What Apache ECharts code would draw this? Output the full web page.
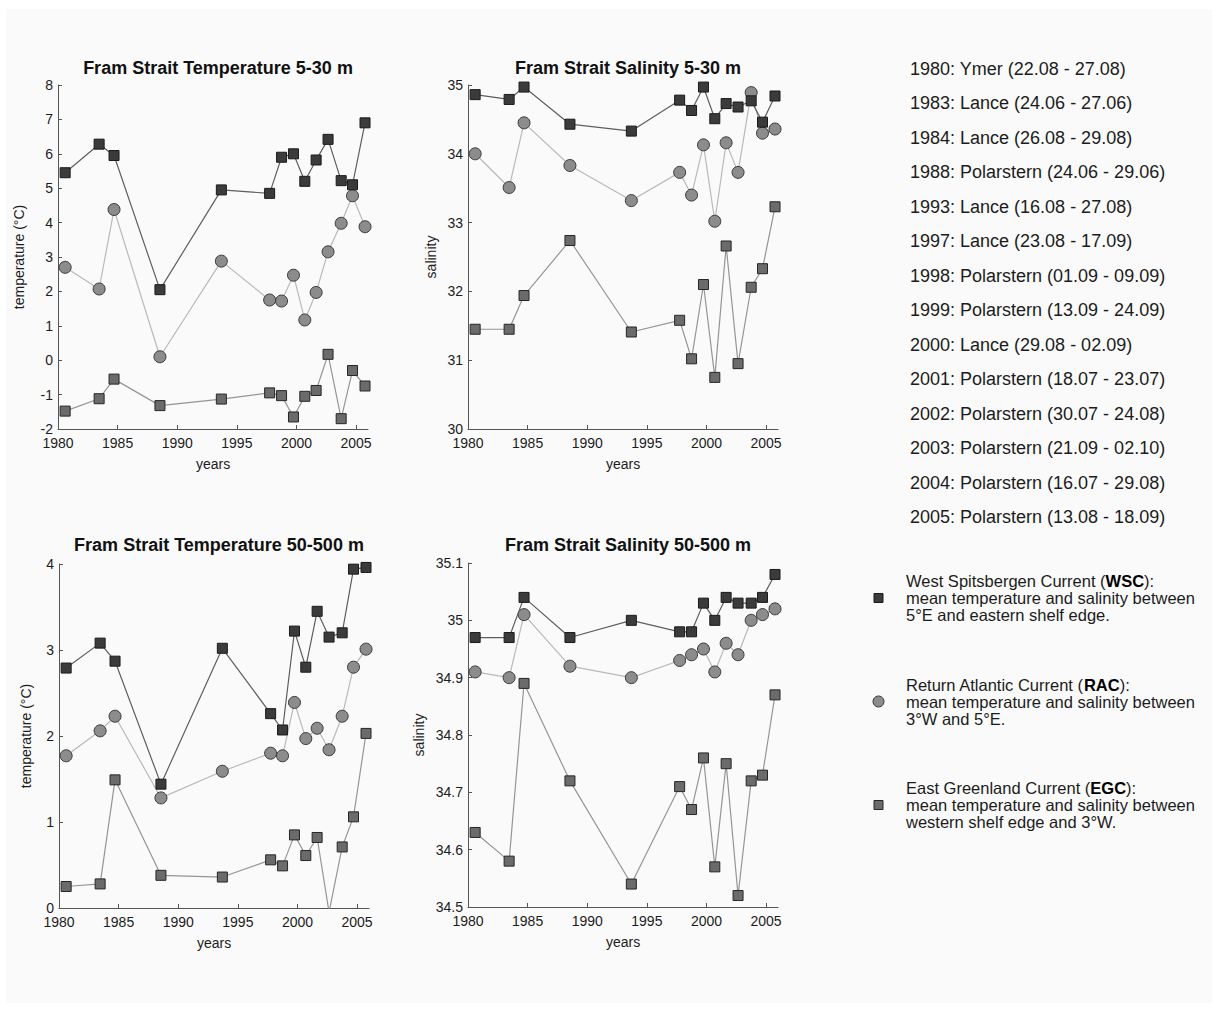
<!DOCTYPE html>
<html>
<head>
<meta charset="utf-8">
<script src="https://cdn.jsdelivr.net/npm/echarts@6/dist/echarts.min.js"></script>
<style>
  html, body { margin: 0; padding: 0; background: #ffffff; }
  #chart { width: 1218px; height: 1009px; }
</style>
</head>
<body>
<div id="chart"></div>
<script>
// Sampling times of the Fram Strait sections (decimal years)
const cruiseTimes = [1980.6, 1983.45, 1984.7, 1988.55, 1993.7, 1997.75, 1998.75, 1999.75, 2000.7, 2001.65, 2002.65, 2003.75, 2004.7, 2005.75];

// Temperature 5-30 m (°C)
const tempSurfWSC = [5.45, 6.28, 5.95, 2.05, 4.95, 4.85, 5.9, 6.0, 5.2, 5.82, 6.42, 5.22, 5.1, 6.9];
const tempSurfRAC = [2.7, 2.07, 4.38, 0.1, 2.88, 1.75, 1.72, 2.47, 1.17, 1.97, 3.15, 3.98, 4.78, 3.88];
const tempSurfEGC = [-1.48, -1.12, -0.55, -1.32, -1.13, -0.95, -1.03, -1.65, -1.05, -0.88, 0.17, -1.7, -0.3, -0.75];

// Salinity 5-30 m
const salSurfWSC = [34.86, 34.79, 34.97, 34.43, 34.33, 34.78, 34.63, 34.97, 34.51, 34.73, 34.68, 34.77, 34.46, 34.84];
const salSurfRAC = [34.0, 33.51, 34.45, 33.83, 33.32, 33.73, 33.4, 34.13, 33.02, 34.16, 33.73, 34.89, 34.3, 34.36];
const salSurfEGC = [31.45, 31.45, 31.94, 32.74, 31.41, 31.58, 31.02, 32.1, 30.75, 32.66, 30.95, 32.06, 32.33, 33.23];

// Temperature 50-500 m (°C)
const tempDeepWSC = [2.79, 3.08, 2.87, 1.44, 3.02, 2.26, 2.07, 3.22, 2.8, 3.45, 3.15, 3.2, 3.94, 3.96];
const tempDeepRAC = [1.77, 2.06, 2.23, 1.28, 1.59, 1.8, 1.77, 2.39, 1.97, 2.09, 1.84, 2.23, 2.8, 3.01];
const tempDeepEGC = [0.25, 0.28, 1.49, 0.38, 0.36, 0.56, 0.49, 0.85, 0.61, 0.82, -0.05, 0.71, 1.06, 2.03];

// Salinity 50-500 m
const salDeepWSC = [34.97, 34.97, 35.04, 34.97, 35.0, 34.98, 34.98, 35.03, 35.0, 35.04, 35.03, 35.03, 35.04, 35.08];
const salDeepRAC = [34.91, 34.9, 35.01, 34.92, 34.9, 34.93, 34.94, 34.95, 34.91, 34.96, 34.94, 35.0, 35.01, 35.02];
const salDeepEGC = [34.63, 34.58, 34.89, 34.72, 34.54, 34.71, 34.67, 34.76, 34.57, 34.75, 34.52, 34.72, 34.73, 34.87];

// Tick labels
const yearTicks = [1980, 1985, 1990, 1995, 2000, 2005];
const salDeepTicks = [34.5, 34.6, 34.7, 34.8, 34.9, 35.0, 35.1];

// Panel titles and axis names
const panelTitles = [
  'Fram Strait Temperature 5-30 m',
  'Fram Strait Salinity 5-30 m',
  'Fram Strait Temperature 50-500 m',
  'Fram Strait Salinity 50-500 m'
];
const yNames = ['temperature (°C)', 'salinity', 'temperature (°C)', 'salinity'];

// Expedition list
const cruiseList = [
  '1980: Ymer (22.08 - 27.08)',
  '1983: Lance (24.06 - 27.06)',
  '1984: Lance (26.08 - 29.08)',
  '1988: Polarstern (24.06 - 29.06)',
  '1993: Lance (16.08 - 27.08)',
  '1997: Lance (23.08 - 17.09)',
  '1998: Polarstern (01.09 - 09.09)',
  '1999: Polarstern (13.09 - 24.09)',
  '2000: Lance (29.08 - 02.09)',
  '2001: Polarstern (18.07 - 23.07)',
  '2002: Polarstern (30.07 - 24.08)',
  '2003: Polarstern (21.09 - 02.10)',
  '2004: Polarstern (16.07 - 29.08)',
  '2005: Polarstern (13.08 - 18.09)'
];

// Current descriptions: name, abbreviation, description lines
const currentNames = ['West Spitsbergen Current', 'Return Atlantic Current', 'East Greenland Current'];
const currentAbbr = ['WSC', 'RAC', 'EGC'];
const currentDesc = [
  ['mean temperature and salinity between', '5°E and eastern shelf edge.'],
  ['mean temperature and salinity between', '3°W and 5°E.'],
  ['mean temperature and salinity between', 'western shelf edge and 3°W.']
];

const FONT = '"Liberation Sans", Arial, Helvetica, sans-serif';
const TEXT = '#1c1c1c';
const AXIS = '#555555';

const styles = {
  WSC: { symbol: 'rect', size: 10, fill: '#3b3b3b', border: '#1a1a1a', line: '#5e5e5e' },
  RAC: { symbol: 'circle', size: 12, fill: '#8c8c8c', border: '#3a3a3a', line: '#b9b9b9' },
  EGC: { symbol: 'rect', size: 10, fill: '#6b6b6b', border: '#262626', line: '#959595' }
};

// Plot areas
const grids = [
  { left: 58, top: 85, width: 310, height: 344 },
  { left: 468, top: 85, width: 310, height: 344 },
  { left: 59, top: 564, width: 310, height: 344 },
  { left: 468, top: 563, width: 310, height: 344 }
];

const yRanges = [
  { min: -2, max: 8, interval: 1, gap: 32 },
  { min: 30, max: 35, interval: 1, gap: 30 },
  { min: 0, max: 4, interval: 1, gap: 26 },
  { min: 34.5, max: 35.1, interval: 0.1, gap: 42, ticks: salDeepTicks }
];

const panelData = [
  [tempSurfWSC, tempSurfRAC, tempSurfEGC],
  [salSurfWSC, salSurfRAC, salSurfEGC],
  [tempDeepWSC, tempDeepRAC, tempDeepEGC],
  [salDeepWSC, salDeepRAC, salDeepEGC]
];

function pairs(values) {
  return cruiseTimes.map((t, i) => [t, values[i]]);
}

const xAxes = grids.map((g, i) => ({
  type: 'value', gridIndex: i, min: 1980, max: 2006,
  axisLine: { show: true, onZero: false, lineStyle: { color: AXIS, width: 1 } },
  axisTick: { show: true, inside: true, length: 4, customValues: yearTicks, lineStyle: { color: AXIS } },
  axisLabel: { customValues: yearTicks, fontSize: 14, color: TEXT, margin: 7, fontFamily: FONT,
    formatter: v => String(Math.round(v)) },
  splitLine: { show: false },
  name: 'years', nameLocation: 'middle', nameGap: 28,
  nameTextStyle: { fontSize: 14, color: TEXT, fontFamily: FONT }
}));

const yAxes = grids.map((g, i) => {
  const r = yRanges[i];
  const ticks = r.ticks || (() => { const a = []; for (let v = r.min; v <= r.max + 1e-9; v += r.interval) a.push(v); return a; })();
  return {
    type: 'value', gridIndex: i, min: r.min, max: r.max,
    axisLine: { show: true, onZero: false, lineStyle: { color: AXIS, width: 1 } },
    axisTick: { show: true, inside: true, length: 4, customValues: ticks, lineStyle: { color: AXIS } },
    axisLabel: {
      customValues: ticks, fontSize: 14, color: TEXT, margin: 5, fontFamily: FONT,
      formatter: v => String(+(+v).toFixed(1))
    },
    splitLine: { show: false },
    name: yNames[i], nameLocation: 'middle', nameGap: r.gap, nameRotate: 90,
    nameTextStyle: { fontSize: 14, color: TEXT, fontFamily: FONT }
  };
});

const series = [];
panelData.forEach((sets, i) => {
  // EGC first, RAC next, WSC on top
  [['EGC', sets[2]], ['RAC', sets[1]], ['WSC', sets[0]]].forEach(([key, vals], k) => {
    const s = styles[key];
    series.push({
      type: 'line', name: key, xAxisIndex: i, yAxisIndex: i,
      data: pairs(vals), symbol: s.symbol, symbolSize: s.size, showAllSymbol: true,
      clip: true, z: 2 + k,
      lineStyle: { color: s.line, width: 1.2 },
      itemStyle: { color: s.fill, borderColor: s.border, borderWidth: 1, opacity: 1 },
      emphasis: { disabled: true }
    });
  });
});

const titles = grids.map((g, i) => ({
  text: panelTitles[i],
  left: g.left + g.width / 2, top: i < 2 ? 54 : 531,
  textAlign: 'center',
  textStyle: { fontSize: 18, fontWeight: 'bold', color: '#111', fontFamily: FONT }
}));

const graphics = [
  { type: 'rect', shape: { x: 6, y: 9, width: 1206, height: 994 }, style: { fill: '#fafafa' }, z: -10, silent: true }
];

cruiseList.forEach((txt, i) => {
  graphics.push({
    type: 'text', x: 910, y: 69 + i * 34.46,
    style: { text: txt, fill: TEXT, font: '18px ' + FONT, textVerticalAlign: 'middle', textAlign: 'left' },
    silent: true
  });
});

const legendY = [598, 701.5, 805];
const legendKeys = ['WSC', 'RAC', 'EGC'];
const LINE_H = 17;
const LEG_FS = 16.5;
legendKeys.forEach((key, i) => {
  const s = styles[key];
  if (s.symbol === 'rect') {
    graphics.push({ type: 'rect', shape: { x: 874, y: legendY[i] - 4.5, width: 9, height: 9 },
      style: { fill: s.fill, stroke: s.border, lineWidth: 1 }, silent: true });
  } else {
    graphics.push({ type: 'circle', shape: { cx: 878.5, cy: legendY[i], r: 5.5 },
      style: { fill: s.fill, stroke: s.border, lineWidth: 1 }, silent: true });
  }
  // three-line description block, abbreviation in bold
  const body = '{n|' + currentNames[i] + ' (}{b|' + currentAbbr[i] + '}{n|):}\n' +
    currentDesc[i].map(l => '{n|' + l + '}').join('\n');
  graphics.push({
    type: 'text', x: 906, y: legendY[i],
    style: {
      text: body,
      textVerticalAlign: 'middle', textAlign: 'left',
      rich: {
        n: { fontSize: LEG_FS, fontFamily: FONT, fill: TEXT, color: TEXT, lineHeight: LINE_H },
        b: { fontSize: LEG_FS, fontFamily: FONT, fontWeight: 'bold', fill: '#000', color: '#000', lineHeight: LINE_H }
      }
    },
    silent: true
  });
});

const chart = echarts.init(document.getElementById('chart'), null, { renderer: 'svg' });
chart.setOption({
  backgroundColor: '#ffffff',
  animation: false,
  title: titles,
  grid: grids.map(g => Object.assign({ outerBoundsMode: 'none', containLabel: false }, g)),
  xAxis: xAxes,
  yAxis: yAxes,
  series: series,
  graphic: graphics
});
</script>
</body>
</html>
